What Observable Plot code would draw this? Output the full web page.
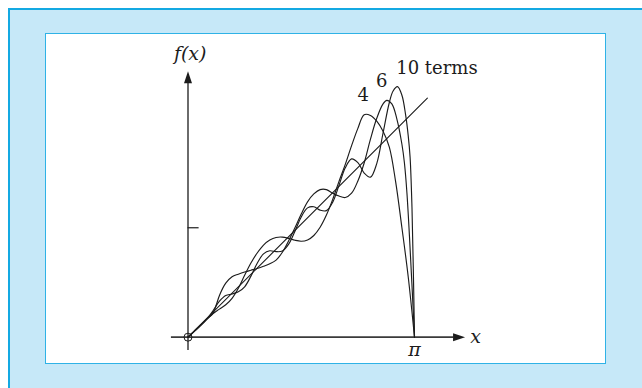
<!DOCTYPE html>
<html><head><meta charset="utf-8">
<script src="https://cdn.jsdelivr.net/npm/d3@7"></script>
<script src="https://cdn.jsdelivr.net/npm/@observablehq/plot@0.6"></script>
<style>
html,body{margin:0;padding:0;background:#fff;}
#wrap{position:relative;width:642px;height:388px;overflow:hidden;}
#outer{position:absolute;left:8px;top:8px;width:640px;height:400px;box-sizing:border-box;background:#c6e8f8;border:2.5px solid #14a9e2;}
#inner{position:absolute;left:44.5px;top:32.5px;width:561px;height:331px;box-sizing:border-box;background:#fff;border:1.5px solid #2fb2e6;}
#chart{position:absolute;left:0;top:0;}
</style></head>
<body><div id="wrap"><div id="outer"></div><div id="inner"></div><div id="chart"></div></div>
<script>
// x positions in degrees (0..180 = 0..π), partial sums
const terms4Deg = [0,5,10,15,20,25,30,35,40,45,50,55,60,65,70,75,80,85,90,95,100,105,110,115,120,125,130,135,140,145,150,155,160,165,170,175,180];
const terms4Val = [0,0.08,0.165,0.25,0.33,0.39,0.45,0.54,0.68,0.86,1.03,1.17,1.28,1.35,1.385,1.39,1.372,1.346,1.333,1.351,1.413,1.527,1.696,1.914,2.165,2.40,2.66,2.90,3.09,3.08,3.00,2.86,2.64,2.16,1.52,0.84,0];

const terms6Deg = [0,5,10,15,20,22.5,25,30,35,40,45,50,55,60,65,70,75,80,85,90,95,100,105,110,115,120,125,130,135,140,145,150,155,158,162,166,170,172,174,176,178,180];
const terms6Val = [0,0.085,0.17,0.25,0.335,0.45,0.58,0.75,0.84,0.875,0.905,0.93,0.955,0.985,1.02,1.07,1.18,1.340,1.52,1.71,1.88,1.99,2.05,2.05,2.00,1.96,1.94,2.00,2.17,2.42,2.75,3.04,3.24,3.29,3.24,3.03,2.68,2.42,2.00,1.40,0.72,0];

const terms10Deg = [0,5,10,15,20,25,30,35,40,45,50,55,60,65,70,75,80,85,90,95,100,105,110,115,120,125,130,135,140,145,150,155,160,163,166.5,170,173,175,176.5,178,179,180];
const terms10Val = [0,0.08,0.16,0.25,0.37,0.50,0.58,0.60,0.63,0.70,0.848,1.027,1.157,1.200,1.188,1.197,1.292,1.472,1.670,1.796,1.812,1.765,1.758,1.876,2.109,2.353,2.477,2.425,2.280,2.223,2.411,2.836,3.26,3.42,3.48,3.36,3.08,2.80,2.50,1.80,1.0,0];

// f(x) = x straight line
const lineX = [0, 3.32];
const lineY = [0, 3.32];

// axes extents, ticks and labels
const xAxisExtent = [-0.23, 3.843];
const yAxisExtent = [-0.185, 3.694];
const yTickValues = [1.52];
const xTickValues = [Math.PI];
const xTickLabels = ["π"];
const numberLabels = ["4", "6"];
const numberLabelX = [2.431, 2.687];
const numberLabelY = [3.357, 3.556];
const termsLabel = "10 terms";
const termsLabelPos = [2.888, 3.736];

const toRad = d => d * Math.PI / 180;
const series = [
  {terms: "4", deg: terms4Deg, val: terms4Val},
  {terms: "6", deg: terms6Deg, val: terms6Val},
  {terms: "10", deg: terms10Deg, val: terms10Val}
];
const rows = series.flatMap(s => s.deg.map((d, i) => ({terms: s.terms, x: toRad(d), y: s.val[i]})));
const lineRows = lineX.map((x, i) => ({x, y: lineY[i]}));

const arrowHead = {draw(ctx) { ctx.moveTo(0, 0); ctx.lineTo(4, 12); ctx.lineTo(-4, 12); ctx.closePath(); }};
const headLenX = 11 / 72.1, headLenY = 11 / 72;

const ink = "#1c1c1c";
const serif = "DejaVu Serif";
const chart = Plot.plot({
  width: 642, height: 388,
  style: {background: "transparent", overflow: "visible"},
  x: {domain: [0, Math.PI], range: [187.5, 414], axis: null},
  y: {domain: [0, 1], range: [336.7, 264.7], axis: null},
  marks: [
    Plot.ruleY([0], {x1: xAxisExtent[0], x2: xAxisExtent[1] - headLenX, stroke: "#3a3a3a", strokeWidth: 1.7}),
    Plot.dot([{x: xAxisExtent[1], y: 0}], {x: "x", y: "y", symbol: arrowHead, rotate: 90, r: 5, fill: ink, stroke: "none"}),
    Plot.ruleX([0], {y1: yAxisExtent[0], y2: yAxisExtent[1] - headLenY, stroke: ink, strokeWidth: 1.3}),
    Plot.dot([{x: 0, y: yAxisExtent[1]}], {x: "x", y: "y", symbol: arrowHead, r: 5, fill: ink, stroke: "none"}),
    Plot.ruleY(yTickValues, {x1: 0, x2: 0.154, stroke: ink, strokeWidth: 1.2}),
    Plot.dot([{x: 0, y: 0}], {x: "x", y: "y", r: 4, stroke: ink, fill: "none", strokeWidth: 1}),
    Plot.line(lineRows, {x: "x", y: "y", stroke: ink, strokeWidth: 1.1}),
    Plot.line(rows, {x: "x", y: "y", z: "terms", curve: "catmull-rom", stroke: ink, strokeWidth: 1.15}),
    Plot.text(xTickValues.map((v, i) => ({x: v, label: xTickLabels[i]})), {x: "x", y: -0.18, text: "label", fontFamily: serif, fontStyle: "italic", fontSize: 19, fill: ink}),
    Plot.text(["x"], {x: 3.99, y: 0, text: d => d, fontFamily: serif, fontStyle: "italic", fontSize: 19, fill: ink}),
    Plot.text(["f(x)"], {x: 0.03, y: 3.936, text: d => d, fontFamily: serif, fontStyle: "italic", fontSize: 19, fill: ink}),
    Plot.text(numberLabels.map((t, i) => ({t, x: numberLabelX[i], y: numberLabelY[i]})), {x: "x", y: "y", text: "t", textAnchor: "middle", fontFamily: serif, fontSize: 18, fill: ink}),
    Plot.text([termsLabel], {x: termsLabelPos[0], y: termsLabelPos[1], text: d => d, textAnchor: "start", fontFamily: serif, fontSize: 18, fill: ink})
  ]
});
document.getElementById("chart").appendChild(chart);
</script></body></html>
